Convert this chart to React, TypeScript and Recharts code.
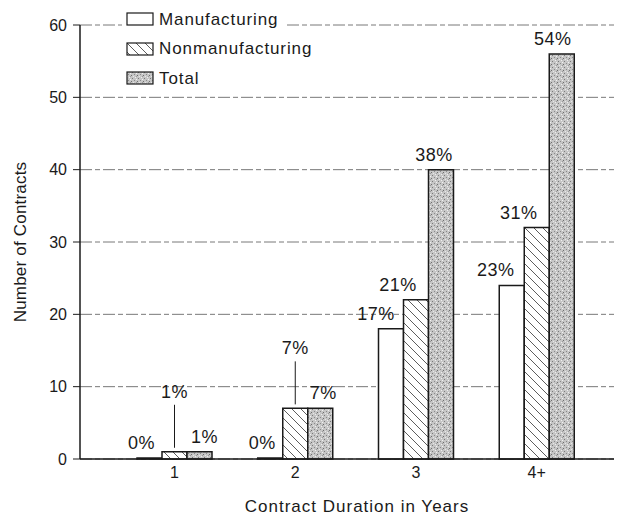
import { BarChart, Bar, XAxis, YAxis, CartesianGrid, Legend, LabelList } from 'recharts';

const categories = ['1', '2', '3', '4+'];
const manufacturing = [0, 0, 18, 24];
const nonmanufacturing = [1, 7, 22, 32];
const total = [1, 7, 40, 56];
const manufacturingPct = ['0%', '0%', '17%', '23%'];
const nonmanufacturingPct = ['1%', '7%', '21%', '31%'];
const totalPct = ['1%', '7%', '38%', '54%'];
const yTicks = [0, 10, 20, 30, 40, 50, 60];

const data = categories.map((c, i) => ({
  name: c,
  manufacturing: manufacturing[i],
  nonmanufacturing: nonmanufacturing[i],
  total: total[i],
  mPct: manufacturingPct[i],
  nPct: nonmanufacturingPct[i],
  tPct: totalPct[i],
}));

const FONT = '"Liberation Sans", Arial, sans-serif';
const INK = '#1a1a1a';

// value label above a bar, nudged sideways like the printed original
const topLabel = (dx: number | number[], raisedIdx: number[] = []) => (props: any) => {
  const { x, y, width, height, value, index } = props;
  const cx = x + width / 2;
  const top = Math.min(y, y + height);
  const shift = Array.isArray(dx) ? dx[index] : dx;
  if (raisedIdx.includes(index)) {
    // small values get lifted with a leader line
    return (
      <g>
        <text x={cx} y={top - 60 + 6} textAnchor="middle" fontSize={18} letterSpacing={0.5} fill={INK} fontFamily={FONT}>{value}</text>
        <line x1={cx} x2={cx} y1={top - 47} y2={top - 4} stroke={INK} strokeWidth={1} />
      </g>
    );
  }
  return (
    <text x={cx + shift} y={top - 15 + 6} textAnchor="middle" fontSize={18} letterSpacing={0.5} fill={INK} fontFamily={FONT}>{value}</text>
  );
};

const legendItems = [
  { label: 'Manufacturing', fill: '#ffffff' },
  { label: 'Nonmanufacturing', fill: 'url(#hatch)' },
  { label: 'Total', fill: 'url(#stipple)' },
];

const LegendBox = () => (
  <div style={{ fontFamily: FONT, fontSize: 17, letterSpacing: 0.9, color: INK }}>
    {legendItems.map((it) => (
      <div
        key={it.label}
        style={{ display: 'flex', alignItems: 'center', height: 29.5, width: 'fit-content', background: '#fff', padding: '0 6px 0 4px' }}
      >
        <svg width={29} height={15} style={{ marginRight: 4 }}>
          <rect x={1} y={1} width={26} height={12} fill={it.fill} stroke={INK} strokeWidth={1.2} />
        </svg>
        <span>{it.label}</span>
      </div>
    ))}
  </div>
);

export default function App() {
  return (
    <div style={{ position: 'absolute', left: 0, top: 0, background: '#fff' }}>
      <BarChart
        width={618}
        height={521}
        data={data}
        margin={{ top: 25, right: 4, bottom: 7, left: 20 }}
        barGap={0}
        barSize={25}
      >
        <defs>
          <pattern id="hatch" patternUnits="userSpaceOnUse" width={9} height={9}>
            <rect width={9} height={9} fill="#ffffff" />
            <path d="M0,0 L9,9 M-2,7 L2,11 M7,-2 L11,2" stroke="#333" strokeWidth={0.8} />
          </pattern>
          <pattern id="stipple" patternUnits="userSpaceOnUse" width={6} height={6}>
            <rect width={6} height={6} fill="#c6c6c6" />
            <rect x={0} y={1} width={1} height={1} fill="#7a7a7a" />
            <rect x={3} y={0} width={1} height={1} fill="#eeeeee" />
            <rect x={2} y={3} width={1} height={1} fill="#8a8a8a" />
            <rect x={5} y={4} width={1} height={1} fill="#6e6e6e" />
            <rect x={4} y={2} width={1} height={1} fill="#f2f2f2" />
            <rect x={1} y={5} width={1} height={1} fill="#e8e8e8" />
            <rect x={4} y={5} width={1} height={1} fill="#999" />
          </pattern>
        </defs>
        <CartesianGrid
          vertical={false}
          stroke="#555"
          strokeWidth={0.8}
          strokeDasharray="12 3 5 3"
        />
        <XAxis
          dataKey="name"
          axisLine={{ stroke: INK, strokeWidth: 1.5 }}
          tickLine={false}
          tick={{ fill: INK, fontSize: 16, fontFamily: FONT }}
          padding={{ left: 34, right: 17 }}
          height={55}
          label={{
            value: 'Contract Duration in Years',
            position: 'insideBottom',
            offset: 2,
            dx: 10,
            style: { fill: INK, fontSize: 17, letterSpacing: 1, fontFamily: FONT },
          }}
        />
        <YAxis
          domain={[0, 60]}
          ticks={yTicks}
          interval={0}
          width={60}
          axisLine={{ stroke: INK, strokeWidth: 1.5 }}
          tickLine={{ stroke: INK, strokeWidth: 1 }}
          tickSize={7}
          tickMargin={6}
          tick={{ fill: INK, fontSize: 16, fontFamily: FONT }}
          label={{
            value: 'Number of Contracts',
            angle: -90,
            position: 'insideLeft',
            offset: 0,
            style: { textAnchor: 'middle', fill: INK, fontSize: 17, letterSpacing: 0.2, fontFamily: FONT },
          }}
        />
        <Legend
          layout="vertical"
          align="center"
          verticalAlign="middle"
          content={() => <LegendBox />}
          wrapperStyle={{ left: 122, top: 5, width: 'auto' }}
        />
        <Bar
          dataKey="manufacturing"
          fill="#ffffff"
          stroke={INK}
          strokeWidth={1.5}
          minPointSize={1}
          isAnimationActive={false}
        >
          <LabelList dataKey="mPct" content={topLabel([-8, -8, -15, -16])} />
        </Bar>
        <Bar dataKey="nonmanufacturing" fill="url(#hatch)" stroke={INK} strokeWidth={1.5} isAnimationActive={false}>
          <LabelList dataKey="nPct" content={topLabel(-18, [0, 1])} />
        </Bar>
        <Bar dataKey="total" fill="url(#stipple)" stroke={INK} strokeWidth={1.5} isAnimationActive={false}>
          <LabelList dataKey="tPct" content={topLabel([5, 3, -7, -9])} />
        </Bar>
      </BarChart>
    </div>
  );
}
